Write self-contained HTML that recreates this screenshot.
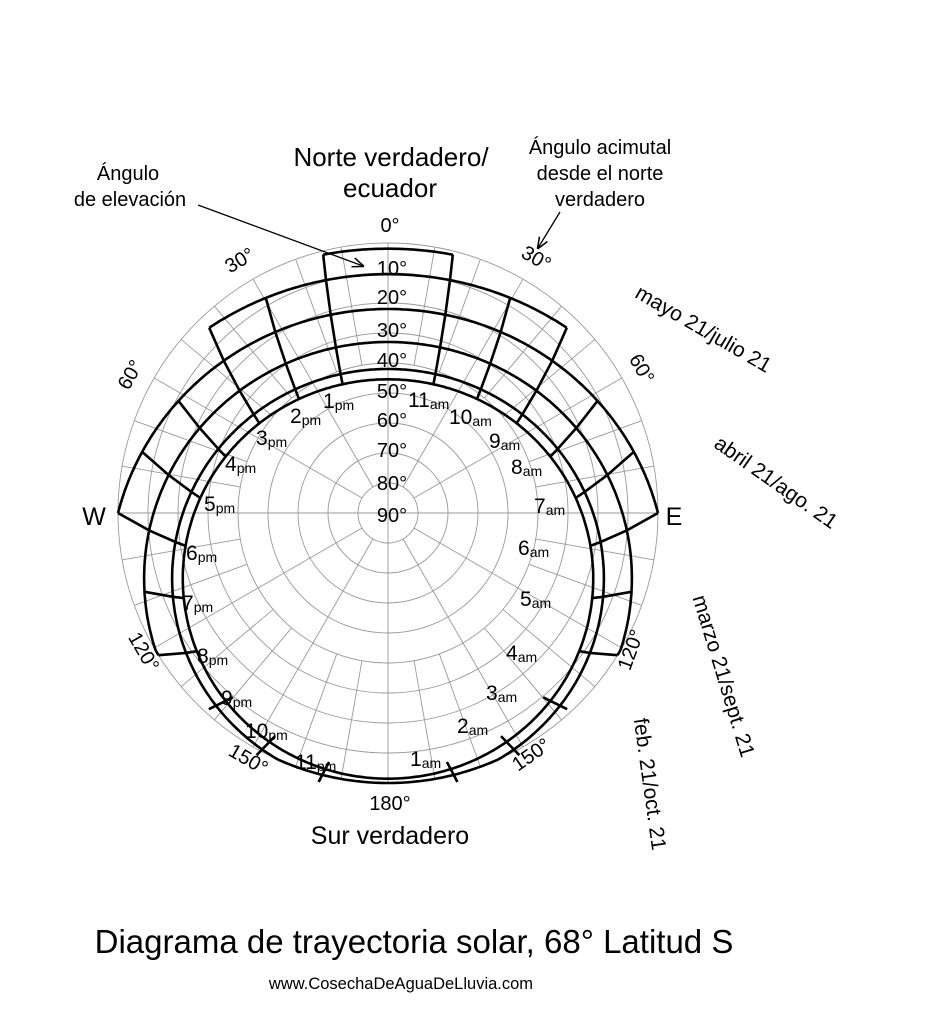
<!DOCTYPE html>
<html><head><meta charset="utf-8"><style>
html,body{margin:0;padding:0;background:#fff;}
svg{display:block;font-family:"Liberation Sans",sans-serif;}
</style></head><body>
<svg id="s" width="946" height="1024" viewBox="0 0 946 1024" xmlns="http://www.w3.org/2000/svg">
<defs><marker id="ar" viewBox="0 0 10 10" refX="9" refY="5" markerWidth="9" markerHeight="9" orient="auto"><path d="M0,1 L10,5 L0,9" fill="none" stroke="#000" stroke-width="1.3"/></marker></defs>
<g id="grid" stroke="#999" stroke-width="0.9" fill="none"></g>
<g id="paths" stroke="#000" stroke-width="2.6" fill="none"></g>
<g id="hours" stroke="#000" stroke-width="2.6" fill="none"></g>
<g font-size="20" text-anchor="middle" fill="#000">
<text x="392" y="275">10°</text><text x="392" y="304">20°</text><text x="392" y="337">30°</text><text x="392" y="367">40°</text><text x="392" y="398">50°</text><text x="392" y="427">60°</text><text x="392" y="457">70°</text><text x="392" y="490">80°</text><text x="392" y="522">90°</text>
<text x="390" y="232">0°</text><text x="390" y="810">180°</text>
</g>
<g font-size="26" text-anchor="middle">
<text x="391" y="166">Norte verdadero/</text><text x="390" y="197">ecuador</text>
<text x="390" y="844" font-size="25">Sur verdadero</text>
<text x="94" y="525" font-size="25">W</text><text x="674" y="525" font-size="25">E</text>
</g>
<g font-size="20" text-anchor="middle">
<text x="128" y="180">Ángulo</text><text x="130" y="206">de elevación</text>
<text x="600" y="154">Ángulo acimutal</text><text x="600" y="180">desde el norte</text><text x="600" y="206">verdadero</text>
</g>
<path d="M198,205 L363,266" stroke="#000" stroke-width="1.3" marker-end="url(#ar)"/>
<path d="M560,212 L538,248" stroke="#000" stroke-width="1.3" marker-end="url(#ar)"/>
<g font-size="20" text-anchor="middle">
<text transform="translate(243,266) rotate(-30)">30°</text>
<text transform="translate(136,378) rotate(-60)">60°</text>
<text transform="translate(138,655) rotate(60)">120°</text>
<text transform="translate(245,765) rotate(30)">150°</text>
<text transform="translate(533,264) rotate(30)">30°</text>
<text transform="translate(636,372) rotate(60)">60°</text>
<text transform="translate(637,652) rotate(-70)">120°</text>
<text transform="translate(535,760) rotate(-35)">150°</text>
</g>
<g font-size="21">
<text transform="translate(700,335) rotate(30)" text-anchor="middle">mayo 21/julio 21</text>
<text transform="translate(772,488) rotate(35)" text-anchor="middle">abril 21/ago. 21</text>
<text transform="translate(717,678) rotate(73)" text-anchor="middle">marzo 21/sept. 21</text>
<text transform="translate(643,785) rotate(82)" text-anchor="middle">feb. 21/oct. 21</text>
</g>
<g id="hl" font-size="21"></g>
<text x="414" y="953" font-size="33" text-anchor="middle">Diagrama de trayectoria solar, 68° Latitud S</text>
<text x="401" y="989" font-size="16.5" text-anchor="middle">www.CosechaDeAguaDeLluvia.com</text>
</svg>
<script>
var NS="http://www.w3.org/2000/svg",cx=388,cy=513,R=270,d2r=Math.PI/180;
function el(p,t,a){var e=document.createElementNS(NS,t);for(var k in a)e.setAttribute(k,a[k]);p.appendChild(e);return e;}
var g=document.getElementById('grid');
for(var i=1;i<=9;i++)el(g,'circle',{cx:cx,cy:cy,r:i*30});
for(var a=0;a<360;a+=10){var s=Math.sin(a*d2r),c=Math.cos(a*d2r);var r0=(a%90==0)?0:(a%30==0?30:150);
el(g,'line',{x1:cx+r0*s,y1:cy-r0*c,x2:cx+R*s,y2:cy-R*c});}
var lat=-68*d2r;
function pos(dec,t){var de=dec*d2r,H=15*(t-12)*d2r;
var sa=Math.sin(lat)*Math.sin(de)+Math.cos(lat)*Math.cos(de)*Math.cos(H);var alt=Math.asin(sa)/d2r;
var az=Math.atan2(-Math.cos(de)*Math.sin(H),Math.sin(de)*Math.cos(lat)-Math.cos(de)*Math.sin(lat)*Math.cos(H));
var r=Math.min(R,(90-alt)/90*R);return{alt:alt,x:cx+r*Math.sin(az),y:cy-r*Math.cos(az)};}
var decs=[-23.44,-20,-11,0,11.6,20.1];
function th(d){return d<0?-2.6:0;}
var pg=document.getElementById('paths');
decs.forEach(function(d){var hs=[];for(var h=0;h<24;h++){if(pos(d,h).alt>=th(d))hs.push(h);}
var t0=0,t1=24;if(hs.length<24){t0=hs[0];t1=hs[hs.length-1];}
var seg=[];for(var t=t0;t<=t1+0.001;t+=0.05){var p=pos(d,t);seg.push(p.x.toFixed(1)+','+p.y.toFixed(1));}
el(pg,'polyline',{points:seg.join(' ')});});
var hg=document.getElementById('hours');
for(var h=1;h<24;h++){if(h==12)continue;var pts=[];decs.forEach(function(d){var p=pos(d,h);if(p.alt>=th(d))pts.push(p);});
if(!pts.length)continue;var f=pts[0],l=pts[pts.length-1],ux,uy;
if(pts.length==1){ux=f.x-cx;uy=f.y-cy;}else{ux=l.x-f.x;uy=l.y-f.y;}
var n=Math.hypot(ux,uy);ux/=n;uy/=n;var e=pts.length<=2?8:0;
var arr=[[f.x-ux*e,f.y-uy*e]];pts.forEach(function(p){arr.push([p.x,p.y]);});arr.push([l.x+ux*e,l.y+uy*e]);
el(hg,'polyline',{points:arr.map(function(q){return q[0].toFixed(1)+','+q[1].toFixed(1)}).join(' ')});}
var L=[["1","pm",323,400],["2","pm",290,415],["3","pm",256,437],["4","pm",225,463],["5","pm",204,503],["6","pm",186,552],["7","pm",182,602],["8","pm",197,655],["9","pm",221,697],["10","pm",245,730],["11","pm",295,761],
["1","am",410,758],["2","am",457,725],["3","am",486,692],["4","am",506,652],["5","am",520,598],["6","am",518,547],["7","am",534,505],["8","am",511,466],["9","am",489,440],["10","am",449,416],["11","am",408,399]];
var hl=document.getElementById('hl');
L.forEach(function(q){var t=el(hl,'text',{x:q[2],y:q[3]+8});t.appendChild(document.createTextNode(q[0]));var sp=el(t,'tspan',{'font-size':'14',dy:'2'});sp.appendChild(document.createTextNode(q[1]));});
</script>
</body></html>
